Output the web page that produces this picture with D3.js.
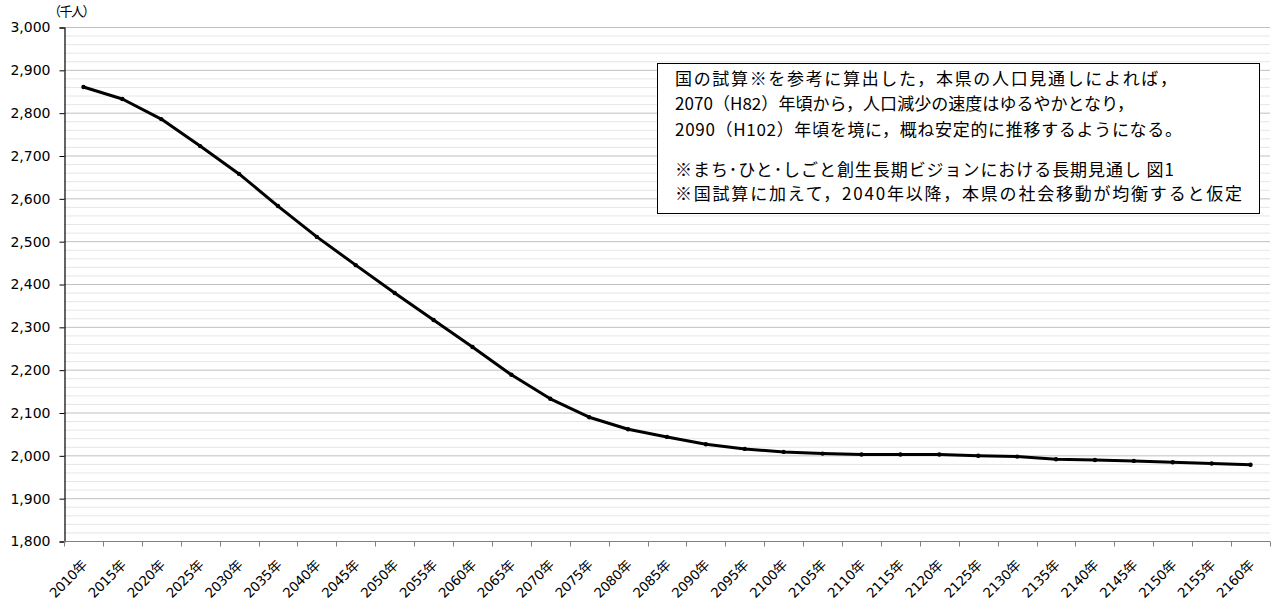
<!DOCTYPE html>
<html>
<head>
<meta charset="utf-8">
<script src="https://cdn.jsdelivr.net/npm/d3@7"></script>
<style>
  html, body { margin: 0; padding: 0; background: #fff; }
  svg { display: block; }
</style>
</head>
<body>
<svg id="chart" width="1274" height="603"></svg>
<script>
// Projected population (thousand persons), every 5 years
const years = [2010, 2015, 2020, 2025, 2030, 2035, 2040, 2045, 2050, 2055, 2060, 2065, 2070, 2075, 2080, 2085,
  2090, 2095, 2100, 2105, 2110, 2115, 2120, 2125, 2130, 2135, 2140, 2145, 2150, 2155, 2160];
const population = [2860, 2832, 2785, 2722, 2657, 2582, 2510, 2444, 2379, 2316, 2253, 2188, 2132, 2089, 2061, 2043,
  2026, 2015, 2008, 2004, 2002, 2002, 2002, 1999, 1997, 1991, 1989, 1987, 1984, 1981, 1978];
const yTicks = [1800, 1900, 2000, 2100, 2200, 2300, 2400, 2500, 2600, 2700, 2800, 2900, 3000];
const unitLabel = "（千人）";
const noteLines = [
  "国の試算※を参考に算出した，本県の人口見通しによれば，",
  "2070（H82）年頃から，人口減少の速度はゆるやかとなり，",
  "2090（H102）年頃を境に，概ね安定的に推移するようになる。",
  "※まち･ひと･しごと創生長期ビジョンにおける長期見通し 図1",
  "※国試算に加えて，2040年以降，本県の社会移動が均衡すると仮定"
];

const svg = d3.select("#chart");
const plotLeft = 64, plotRight = 1270, plotTop = 27, plotBottom = 541;

const x = d3.scaleBand().domain(years.map(d => d + "年")).range([plotLeft, plotRight]).padding(0);
const y = d3.scaleLinear().domain([1800, 3000]).range([plotBottom, plotTop]);

// minor grid every 20
const minor = d3.range(1820, 3000, 20).filter(v => v % 100 !== 0);
svg.append("g").selectAll("line").data(minor).join("line")
  .attr("x1", plotLeft).attr("x2", plotRight)
  .attr("y1", d => y(d) + 0.5).attr("y2", d => y(d) + 0.5)
  .attr("stroke", "#e6e6e6").attr("stroke-width", 1);

// major grid
svg.append("g").selectAll("line").data(yTicks.filter(v => v !== 1800)).join("line")
  .attr("x1", plotLeft).attr("x2", plotRight)
  .attr("y1", d => y(d) + 0.5).attr("y2", d => y(d) + 0.5)
  .attr("stroke", "#c0c0c0").attr("stroke-width", 1);

// y axis
const yAxis = svg.append("g").attr("transform", `translate(${plotLeft + 0.5},0.5)`)
  .call(d3.axisLeft(y).tickValues(yTicks).tickSize(5).tickPadding(9).tickFormat(d3.format(",")));
yAxis.select(".domain").attr("stroke", "#000").attr("stroke-width", 1.2);
yAxis.selectAll(".tick line").attr("stroke", "#000");
yAxis.selectAll("text").attr("font-family", "Verdana, 'DejaVu Sans', sans-serif").attr("font-size", 14).attr("fill", "#000");

// x axis with ticks at category boundaries
const xAxisG = svg.append("g").attr("transform", `translate(0,${plotBottom + 0.5})`);
xAxisG.append("line").attr("x1", plotLeft).attr("x2", plotRight).attr("stroke", "#808080");
const bounds = years.map(d => x(d + "年")).concat([plotRight]);
xAxisG.selectAll("line.tk").data(bounds).join("line").attr("class", "tk")
  .attr("x1", d => Math.round(d) + 0.5).attr("x2", d => Math.round(d) + 0.5)
  .attr("y1", 0).attr("y2", 5).attr("stroke", "#808080");
xAxisG.selectAll("text").data(x.domain()).join("text")
  .attr("transform", d => `translate(${x(d) + x.bandwidth() / 2 + 4.5},24.5) rotate(-45)`)
  .attr("text-anchor", "end")
  .attr("font-family", "'DejaVu Sans', 'Noto Sans CJK JP', sans-serif")
  .attr("font-size", 13.5)
  .attr("letter-spacing", -0.3)
  .attr("fill", "#000")
  .text(d => d);

// unit label
svg.append("text").attr("x", 48).attr("y", 16)
  .attr("letter-spacing", -1.5)
  .attr("font-family", "'Noto Sans CJK JP', sans-serif").attr("font-size", 13)
  .attr("fill", "#000").text(unitLabel);

// population line
const line = d3.line().x((d, i) => x(years[i] + "年") + x.bandwidth() / 2).y(d => y(d));
svg.append("path").datum(population).attr("d", line)
  .attr("fill", "none").attr("stroke", "#000").attr("stroke-width", 3).attr("stroke-linejoin", "round");
svg.append("g").selectAll("circle").data(population).join("circle")
  .attr("cx", (d, i) => x(years[i] + "年") + x.bandwidth() / 2)
  .attr("cy", d => y(d)).attr("r", 2.2).attr("fill", "#000");

// note box
const box = svg.append("g");
box.append("rect").attr("x", 657.5).attr("y", 63.5).attr("width", 602).attr("height", 150)
  .attr("fill", "#fff").attr("stroke", "#000").attr("stroke-width", 1);
const lineY = [85, 110, 136, 176, 200];
const lineLen = [502, 459, 507, 499, 567];
box.selectAll("text").data(noteLines).join("text")
  .attr("x", 675).attr("y", (d, i) => lineY[i])
  .attr("textLength", (d, i) => lineLen[i]).attr("lengthAdjust", "spacing")
  .attr("font-family", "'Noto Sans CJK JP', sans-serif").attr("font-size", 17)
  .attr("fill", "#000").text(d => d);
</script>
</body>
</html>
